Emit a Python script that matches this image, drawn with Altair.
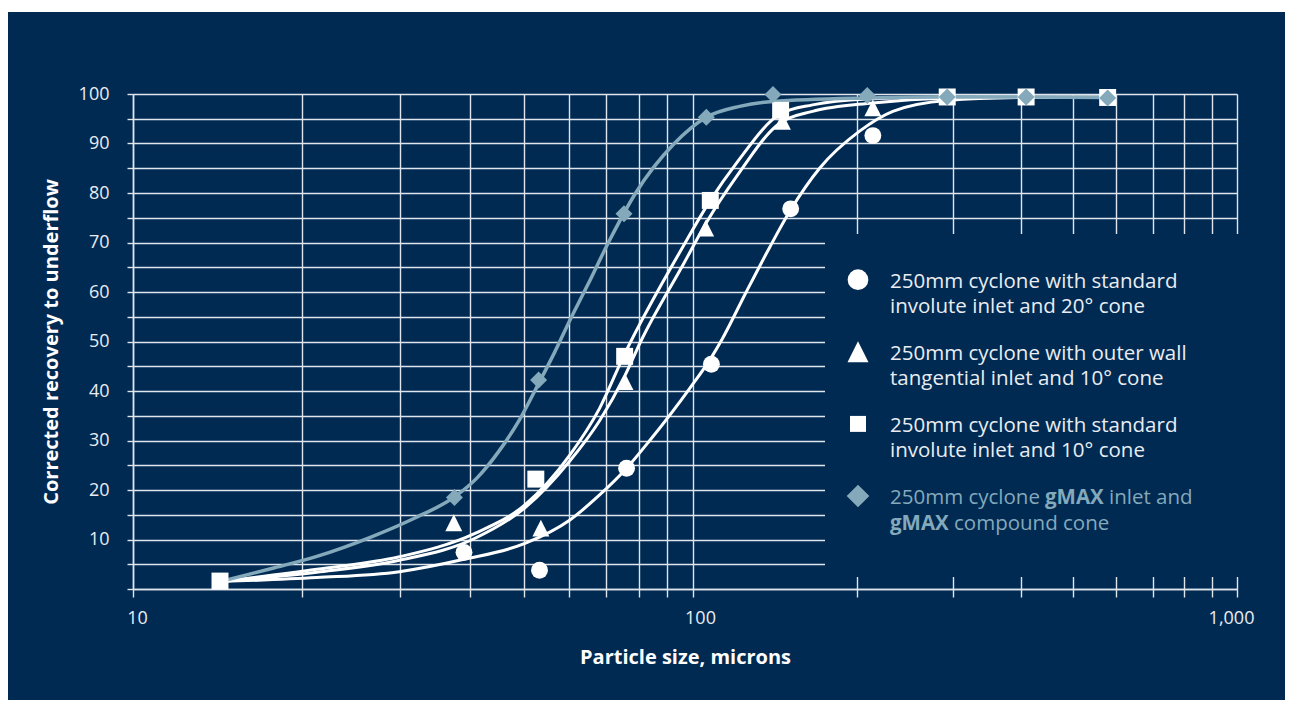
import altair as alt
import pandas as pd

# ---------------- data ----------------
SERIES = [
    "250mm cyclone with standard involute inlet and 20° cone",
    "250mm cyclone with outer wall tangential inlet and 10° cone",
    "250mm cyclone with standard involute inlet and 10° cone",
    "250mm cyclone gMAX inlet and gMAX compound cone",
]

# measured points (particle size in microns, corrected recovery %)
circle_x = [39.0, 53.2, 76.1, 108.1, 151.2, 214.1]
circle_y = [7.4, 3.8, 24.4, 45.4, 76.8, 91.6]
triangle_x = [37.4, 53.5, 75.6, 105.5, 146.0, 214.1]
triangle_y = [13.4, 12.3, 41.9, 72.9, 94.5, 97.2]
square_x = [14.3, 52.4, 75.5, 107.6, 144.9, 293.3, 409.6, 578.4]
square_y = [1.6, 22.2, 47.0, 78.5, 96.7, 99.4, 99.4, 99.3]
diamond_x = [37.5, 53.0, 75.3, 105.8, 140.3, 209.1, 293.3, 409.6, 578.4]
diamond_y = [18.5, 42.2, 75.8, 95.3, 99.9, 99.7, 99.4, 99.4, 99.2]

# fitted curves as drawn
curve_circle_x = [14.3, 21.3, 29.9, 39.0, 50.1, 60.2, 68.1, 76.1, 83.7, 98.6, 108.1,
                  112.9, 125.0, 138.3, 151.2, 170.9, 202.4, 233.0, 293.3, 409.6, 578.4]
curve_circle_y = [1.5, 2.3, 3.5, 6.0, 9.2, 13.9, 19.0, 24.4, 30.0, 40.5, 46.8,
                  50.3, 59.8, 69.0, 76.6, 85.0, 92.5, 96.5, 98.7, 99.3, 99.4]
curve_triangle_x = [14.3, 21.3, 29.9, 40.9, 50.1, 60.2, 68.1, 75.5, 80.9, 96.0, 105.8,
                    120.2, 144.3, 165.9, 214.1, 293.3, 409.6, 578.4]
curve_triangle_y = [1.5, 3.4, 5.8, 10.3, 16.4, 25.8, 34.0, 43.0, 50.3, 65.5, 74.0,
                    83.3, 94.1, 96.5, 98.2, 99.2, 99.4, 99.4]
curve_square_x = [14.3, 21.3, 29.9, 40.9, 50.1, 60.2, 68.1, 75.5, 96.0, 107.6,
                  120.3, 144.9, 165.9, 208.2, 293.3, 409.6, 578.4]
curve_square_y = [1.5, 4.0, 6.5, 11.3, 17.0, 27.0, 36.5, 47.5, 69.2, 78.5,
                  86.1, 96.0, 97.8, 99.0, 99.4, 99.4, 99.3]
curve_gmax_x = [14.3, 17.9, 21.3, 26.6, 31.8, 37.5, 41.2, 45.0, 48.9, 53.0, 56.6, 60.4,
                64.9, 71.0, 79.0, 92.6, 105.8, 121.8, 140.1, 208.2, 293.3, 409.6, 578.4]
curve_gmax_y = [1.5, 4.3, 6.6, 10.5, 14.3, 18.6, 22.5, 27.8, 34.0, 41.5, 47.8, 54.5,
                61.5, 70.5, 80.0, 90.0, 95.3, 97.5, 98.5, 99.2, 99.4, 99.4, 99.3]

x_tick_values = [10, 20, 30, 40, 50, 60, 70, 80, 90,
                 100, 200, 300, 400, 500, 600, 700, 800, 900, 1000]
x_labelled = [10, 100, 1000]
y_tick_values = list(range(0, 101, 5))

legend_lines = [
    "250mm cyclone with standard\ninvolute inlet and 20° cone",
    "250mm cyclone with outer wall\ntangential inlet and 10° cone",
    "250mm cyclone with standard\ninvolute inlet and 10° cone",
]
legend_gmax_line1 = ["250mm cyclone", "gMAX", "inlet and"]
legend_gmax_line2 = ["gMAX", "compound cone"]

# ---------------- styles ----------------
NAVY = "#012a53"
WHITE = "#ffffff"
GMAX = "#84a9ba"
GRID = "#dfe5ec"
TXT = "#e9edf2"
FONT = "Open Sans"
TRI = "M0,-1L-1,1L1,1Z"
SHAPES = ["circle", TRI, "square", "diamond"]
COLORS = [WHITE, WHITE, WHITE, GMAX]
SIZES = [285, 289, 256, 400]
LEG_SIZES = [428, 441, 256, 515]

W, H = 1104, 495

pts = pd.concat([
    pd.DataFrame({"size": circle_x, "rec": circle_y, "series": SERIES[0]}),
    pd.DataFrame({"size": triangle_x, "rec": triangle_y, "series": SERIES[1]}),
    pd.DataFrame({"size": square_x, "rec": square_y, "series": SERIES[2]}),
    pd.DataFrame({"size": diamond_x, "rec": diamond_y, "series": SERIES[3]}),
], ignore_index=True)

curves_white = pd.concat([
    pd.DataFrame({"size": curve_circle_x, "rec": curve_circle_y, "series": SERIES[0]}),
    pd.DataFrame({"size": curve_triangle_x, "rec": curve_triangle_y, "series": SERIES[1]}),
    pd.DataFrame({"size": curve_square_x, "rec": curve_square_y, "series": SERIES[2]}),
], ignore_index=True)
curve_gmax = pd.DataFrame({"size": curve_gmax_x, "rec": curve_gmax_y, "series": SERIES[3]})

# the printed log axis gives the first decade slightly more room than the second
x_scale = alt.Scale(type="log", domain=[10, 100, 1000], range=[0, 560, W], nice=False)
y_scale = alt.Scale(domain=[0, 100], nice=False, zero=True)

x_axis = alt.Axis(
    values=x_tick_values,
    labelExpr="indexof(%s, datum.value) >= 0 ? format(datum.value, ',') : ''" % str(x_labelled),
    labelOffset={"expr": "datum.value == 10 ? 4 : datum.value == 100 ? 7 : datum.value == 1000 ? -6 : 0"},
    title="Particle size, microns",
    grid=True, tickSize=8, labelPadding=12, titlePadding=20,
    labelFlush=False, labelOverlap=False,
)
y_axis = alt.Axis(
    values=y_tick_values,
    labelExpr="(datum.value % 10 == 0 && datum.value > 0) ? datum.label : ''",
    title="Corrected recovery to underflow",
    grid=True, tickSize=6, labelPadding=18, titlePadding=17,
    labelOverlap=False,
)
X = alt.X("size:Q", scale=x_scale, axis=x_axis)
Y = alt.Y("rec:Q", scale=y_scale, axis=y_axis)

one = pd.DataFrame({"k": [0]})

# white strip at the very top of the page (reference frame starts a few px lower)
top_strip = alt.Chart(one).mark_rect(color="white").encode(
    x=alt.value(-140), x2=alt.value(1160), y=alt.value(-90), y2=alt.value(-82)
)

# legend backdrop that hides the grid
legend_box = alt.Chart(one).mark_rect(color=NAVY).encode(
    x=alt.value(692), x2=alt.value(1110), y=alt.value(140), y2=alt.value(483)
)

white_lines = alt.Chart(curves_white).mark_line(
    color=WHITE, strokeWidth=3, interpolate="monotone"
).encode(x=X, y=Y, detail="series:N")

gmax_line = alt.Chart(curve_gmax).mark_line(
    color=GMAX, strokeWidth=3.5, interpolate="monotone"
).encode(x=X, y=Y)

points = alt.Chart(pts).mark_point(filled=True, opacity=1, strokeWidth=0).encode(
    x=X, y=Y,
    shape=alt.Shape("series:N", scale=alt.Scale(domain=SERIES, range=SHAPES), legend=None),
    color=alt.Color("series:N", scale=alt.Scale(domain=SERIES, range=COLORS), legend=None),
    size=alt.Size("series:N", scale=alt.Scale(domain=SERIES, range=SIZES), legend=None),
)

# ---------------- manual legend ----------------
LX_SYM, LX_TXT = 725, 757
L_BASE0, L_STEP = 193.7, 72.1
FS_LEG = 20.5
LH = 25.5
legend_layers = []
for i in range(4):
    base = L_BASE0 + i * L_STEP
    legend_layers.append(
        alt.Chart(one).mark_point(
            shape=SHAPES[i], filled=True, opacity=1, strokeWidth=0,
            size=LEG_SIZES[i], color=COLORS[i]
        ).encode(x=alt.value(LX_SYM), y=alt.value(base - 8))
    )
for i, txt in enumerate(legend_lines):
    base = L_BASE0 + i * L_STEP
    legend_layers.append(
        alt.Chart(one).mark_text(
            align="left", baseline="alphabetic", font=FONT, fontSize=FS_LEG,
            lineHeight=LH, lineBreak="\n", color=TXT
        ).encode(x=alt.value(LX_TXT), y=alt.value(base), text=alt.value(txt))
    )
base4 = L_BASE0 + 3 * L_STEP
gx1 = [LX_TXT, 912, 976]
gw1 = ["normal", "bold", "normal"]
for t, xx, w in zip(legend_gmax_line1, gx1, gw1):
    legend_layers.append(
        alt.Chart(one).mark_text(
            align="left", baseline="alphabetic", font=FONT, fontSize=FS_LEG,
            fontWeight=w, color=GMAX
        ).encode(x=alt.value(xx), y=alt.value(base4), text=alt.value(t))
    )
gx2 = [LX_TXT, 821]
gw2 = ["bold", "normal"]
for t, xx, w in zip(legend_gmax_line2, gx2, gw2):
    legend_layers.append(
        alt.Chart(one).mark_text(
            align="left", baseline="alphabetic", font=FONT, fontSize=FS_LEG,
            fontWeight=w, color=GMAX
        ).encode(x=alt.value(xx), y=alt.value(base4 + LH), text=alt.value(t))
    )

chart = alt.layer(
    top_strip, legend_box, white_lines, gmax_line, points, *legend_layers
).properties(
    width=W, height=H,
    background=NAVY,
    padding={"left": 125, "top": 86, "right": 48, "bottom": 111},
    autosize=alt.AutoSizeParams(type="none"),
).configure_view(
    stroke=None, fill=None
).configure_axis(
    gridColor=GRID, gridWidth=1.4, gridOpacity=1,
    domainColor=GRID, domainWidth=1.5,
    tickColor=GRID, tickWidth=1.4,
    labelFont=FONT, labelFontSize=18, labelColor=TXT,
    titleFont=FONT, titleFontSize=20, titleFontWeight="bold", titleColor=WHITE,
)

chart.save("out.html", embed_options={"renderer": "svg", "actions": False})
